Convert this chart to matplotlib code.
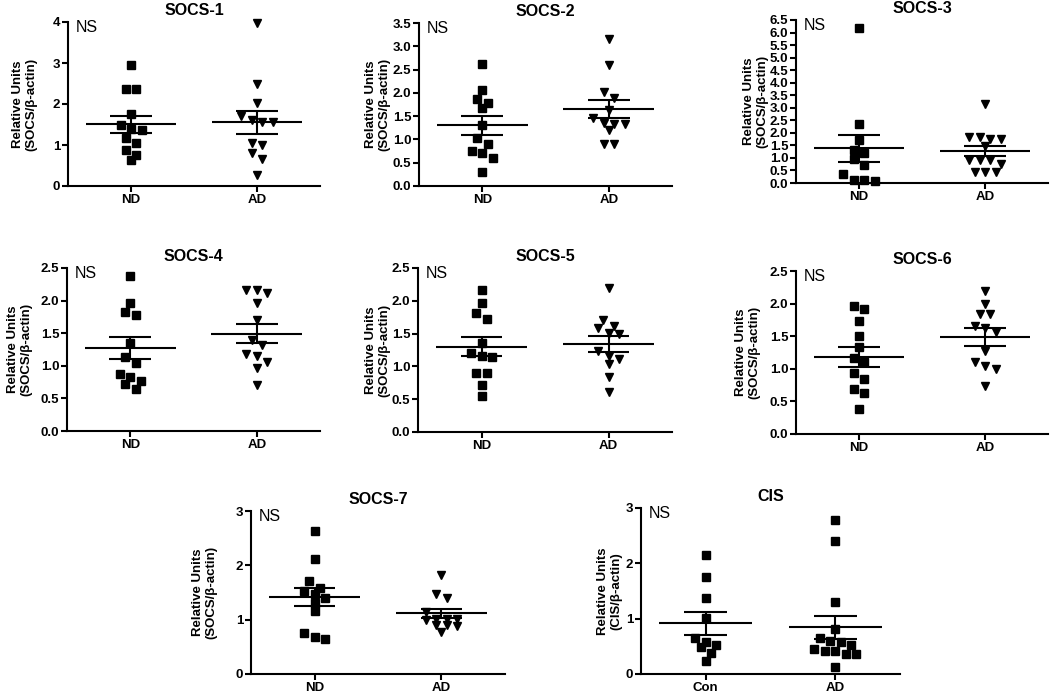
import numpy as np
import matplotlib.pyplot as plt

plt.rcParams['font.family'] = ['Liberation Sans', 'DejaVu Sans']

# relative units (SOCS/beta-actin)
socs1_nd = [2.95, 2.36, 2.36, 1.75, 1.48, 1.37, 1.38, 1.18, 1.04, 0.87, 0.76, 0.63]
socs1_ad = [3.98, 2.48, 2.02, 1.70, 1.55, 1.57, 1.60, 1.00, 1.06, 0.80, 0.66, 0.28]
socs2_nd = [2.63, 2.06, 1.86, 1.79, 1.68, 1.31, 1.04, 0.90, 0.70, 0.75, 0.61, 0.31]
socs2_ad = [3.16, 2.59, 2.02, 1.89, 1.63, 1.45, 1.34, 1.36, 1.34, 1.21, 0.91, 0.91]
socs3_nd = [6.19, 2.37, 1.73, 1.33, 1.20, 0.96, 0.71, 0.36, 0.13, 0.07, 0.11]
socs3_ad = [3.14, 1.82, 1.76, 1.76, 1.82, 1.46, 0.93, 0.93, 0.93, 0.75, 0.44, 0.44, 0.44]
socs4_nd = [2.38, 1.97, 1.78, 1.82, 1.35, 1.13, 1.04, 0.87, 0.83, 0.77, 0.72, 0.64]
socs4_ad = [2.16, 2.16, 2.11, 1.97, 1.70, 1.40, 1.32, 1.15, 1.18, 1.06, 0.96, 0.71]
socs5_nd = [2.17, 1.97, 1.81, 1.72, 1.35, 1.16, 1.15, 1.21, 0.90, 0.90, 0.71, 0.55]
socs5_ad = [2.20, 1.71, 1.58, 1.61, 1.51, 1.49, 1.23, 1.16, 1.12, 1.03, 0.84, 0.61]
socs6_nd = [1.96, 1.91, 1.73, 1.51, 1.34, 1.16, 1.11, 0.93, 0.85, 0.69, 0.63, 0.38]
socs6_ad = [2.19, 2.00, 1.84, 1.84, 1.62, 1.66, 1.56, 1.28, 1.04, 1.11, 0.99, 0.73]
socs7_nd = [2.63, 2.11, 1.71, 1.59, 1.53, 1.47, 1.40, 1.31, 1.16, 0.75, 0.65, 0.68]
socs7_ad = [1.83, 1.48, 1.40, 1.15, 1.02, 1.01, 1.00, 1.01, 0.90, 0.88, 0.91, 0.78]
cis_con = [2.15, 1.76, 1.37, 1.02, 0.65, 0.53, 0.48, 0.58, 0.38, 0.24]
cis_ad = [2.79, 2.40, 1.30, 0.81, 0.65, 0.58, 0.60, 0.53, 0.42, 0.36, 0.36, 0.42, 0.46, 0.13]

titles = ['SOCS-1', 'SOCS-2', 'SOCS-3', 'SOCS-4', 'SOCS-5', 'SOCS-6', 'SOCS-7', 'CIS']
group_labels = [['ND', 'AD']] * 7 + [['Con', 'AD']]
ymax = [4, 3.5, 6.5, 2.5, 2.5, 2.5, 3, 3]
ystep = [1, 0.5, 0.5, 0.5, 0.5, 0.5, 1, 1]
ylabels = ['Relative Units\n(SOCS/\u03b2-actin)'] * 7 + ['Relative Units\n(CIS/\u03b2-actin)']
series = [(socs1_nd, socs1_ad), (socs2_nd, socs2_ad), (socs3_nd, socs3_ad),
          (socs4_nd, socs4_ad), (socs5_nd, socs5_ad), (socs6_nd, socs6_ad),
          (socs7_nd, socs7_ad), (cis_con, cis_ad)]
markers = [('s', 'v')] * 7 + [('s', 's')]

# axes boxes in pixels: left, right, top, bottom
W, H = 1050, 694
boxes = [(68, 320, 22, 186), (419, 672, 23, 186), (796, 1048, 20, 183),
         (67, 320, 268, 431), (418, 672, 268, 432), (796, 1048, 271, 434),
         (251, 505, 511, 674), (641, 900, 508, 674)]
# gap (px) between the y spine and the right edge of the y label
label_gap = [31, 29, 28, 35, 28, 36, 34, 19]


def swarm(vals, px_y, px_x, step=10.5, tol=8):
    # simple column scatter: points close in y share a row and spread sideways
    vals = np.asarray(vals)
    order = np.argsort(-vals, kind='stable')
    offs = np.zeros(len(vals))
    rows = [[order[0]]]
    for j in order[1:]:
        if (vals[rows[-1][0]] - vals[j]) * px_y > tol:
            rows.append([j])
        else:
            rows[-1].append(j)
    for row in rows:
        n = len(row)
        for i, j in enumerate(row):
            offs[j] = (i - (n - 1) / 2) * step / px_x
    return offs


fig = plt.figure(figsize=(10.5, 6.94), dpi=100)

for k in range(8):
    l, r, t, b = boxes[k]
    ax = fig.add_axes([l / W, 1 - b / H, (r - l) / W, (b - t) / H])
    px_x = (r - l) / 4.0
    px_y = (b - t) / ymax[k]
    for c, vals, mk in zip([1, 3], series[k], markers[k]):
        vals = np.array(vals)
        x = c + swarm(vals, px_y, px_x)
        ms = 5.5 if mk == 's' else 6.2
        ax.plot(x, vals, ls='none', marker=mk, ms=ms, color='black', clip_on=False)
        m = vals.mean()
        se = vals.std(ddof=1) / np.sqrt(len(vals))
        ax.hlines(m, c - 0.72, c + 0.72, color='black', lw=1.5)
        ax.vlines(c, m - se, m + se, color='black', lw=1.5)
        ax.hlines([m - se, m + se], c - 0.33, c + 0.33, color='black', lw=1.5)

    ax.set_xlim(0, 4)
    ax.set_ylim(0, ymax[k])
    ax.set_xticks([1, 3])
    ax.set_xticklabels(group_labels[k], fontweight='bold', fontsize=9.5)
    yt = np.arange(0, ymax[k] + ystep[k] / 2, ystep[k])
    ax.set_yticks(yt)
    fmt = '%d' if ystep[k] == 1 else '%.1f'
    ax.set_yticklabels([fmt % v for v in yt], fontweight='bold', fontsize=9.5)
    for s in ['top', 'right']:
        ax.spines[s].set_visible(False)
    for s in ['left', 'bottom']:
        ax.spines[s].set_linewidth(1.5)
    ax.tick_params(direction='out', length=4, width=1.5, pad=1.5)
    ax.set_title(titles[k], fontweight='bold', fontsize=11.5, pad=5)
    ax.set_ylabel(ylabels[k], fontweight='bold', fontsize=9.5, linespacing=1.15)
    ax.yaxis.set_label_coords(-label_gap[k] / (r - l), 0.5)
    ax.text(0.03, 1.01, 'NS', transform=ax.transAxes, va='top', ha='left', fontsize=11.5)

fig.savefig('out.png', dpi=100)
